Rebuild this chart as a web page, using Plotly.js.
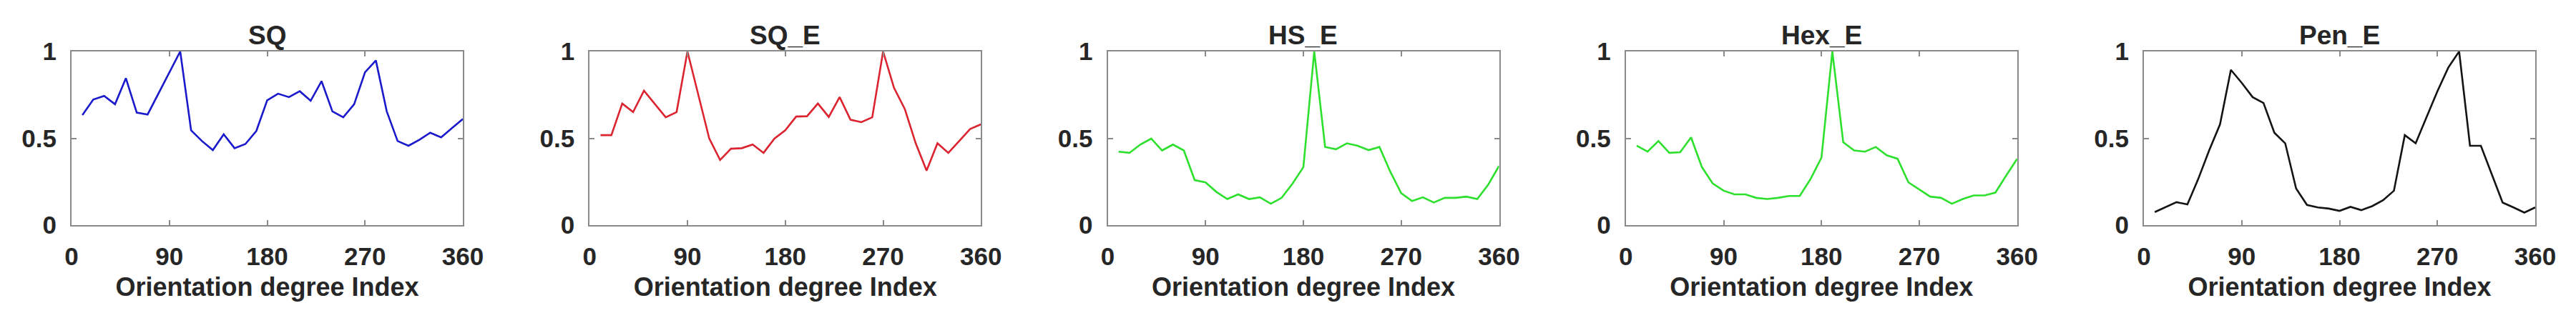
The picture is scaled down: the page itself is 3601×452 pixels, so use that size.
<!DOCTYPE html>
<html>
<head>
<meta charset="utf-8">
<script src="https://cdn.plot.ly/plotly-3.0.1.min.js"></script>
<style>
  html, body { margin: 0; padding: 0; background: #ffffff; }
  #chart { width: 3601px; height: 452px; }
</style>
</head>
<body>
<div id="chart"></div>
<script>
// Orientation angles (degrees)
const angles = [10, 20, 30, 40, 50, 60, 70, 80, 90, 100, 110, 120,
                130, 140, 150, 160, 170, 180, 190, 200, 210, 220, 230, 240,
                250, 260, 270, 280, 290, 300, 310, 320, 330, 340, 350, 360];

const panelTitles = ["SQ", "SQ_E", "HS_E", "Hex_E", "Pen_E"];

const sq = [0.634, 0.723, 0.744, 0.696, 0.846, 0.648, 0.637, 0.758, 0.879, 1.0, 0.546, 0.484,
            0.432, 0.523, 0.443, 0.467, 0.542, 0.719, 0.757, 0.737, 0.771, 0.716, 0.829, 0.655,
            0.621, 0.696, 0.880, 0.948, 0.655, 0.484, 0.457, 0.491, 0.532, 0.505, 0.559, 0.611];

const sqE = [0.518, 0.518, 0.700, 0.651, 0.774, 0.696, 0.621, 0.651, 1.0, 0.75, 0.50, 0.375,
             0.440, 0.443, 0.464, 0.416, 0.498, 0.546, 0.625, 0.627, 0.700, 0.623, 0.737, 0.607,
             0.593, 0.621, 1.0, 0.791, 0.668, 0.471, 0.314, 0.471, 0.416, 0.484, 0.553, 0.580];

const hsE = [0.423, 0.416, 0.464, 0.498, 0.430, 0.464, 0.430, 0.259, 0.246, 0.191, 0.150, 0.177,
             0.150, 0.160, 0.123, 0.157, 0.239, 0.334, 1.0, 0.450, 0.437, 0.471, 0.457, 0.432,
             0.450, 0.307, 0.184, 0.139, 0.160, 0.130, 0.157, 0.157, 0.164, 0.150, 0.232, 0.341];

const hexE = [0.457, 0.423, 0.484, 0.416, 0.420, 0.505, 0.334, 0.239, 0.198, 0.177, 0.177, 0.157,
              0.150, 0.157, 0.168, 0.168, 0.266, 0.389, 1.0, 0.477, 0.430, 0.423, 0.450, 0.402,
              0.382, 0.246, 0.205, 0.164, 0.157, 0.123, 0.150, 0.171, 0.171, 0.187, 0.286, 0.382];

const penE = [0.075, 0.102, 0.132, 0.119, 0.266, 0.430, 0.580, 0.894, 0.819, 0.737, 0.703, 0.532,
              0.471, 0.211, 0.116, 0.102, 0.095, 0.082, 0.105, 0.086, 0.109, 0.143, 0.198, 0.518,
              0.471, 0.621, 0.771, 0.907, 1.0, 0.457, 0.457, 0.293, 0.130, 0.102, 0.072, 0.102];

const xTickVals = [0, 90, 180, 270, 360];
const xTickText = ["0", "90", "180", "270", "360"];
const yTickVals = [0, 0.5, 1];
const yTickText = ["0", "0.5", "1"];
const xAxisTitle = "Orientation degree Index";

const seriesList = [sq, sqE, hsE, hexE, penE];
const lineColors = ["#1a1acc", "#dc2430", "#2ee02e", "#2ee02e", "#141414"];

const W = 3601, H = 452;
const FONT = "Liberation Sans, Arial, sans-serif";
const TXT = "#262626";

const traces = [];
const layout = {
  width: W, height: H,
  margin: {l: 0, r: 0, t: 0, b: 0},
  paper_bgcolor: "#ffffff",
  plot_bgcolor: "#ffffff",
  showlegend: false,
  font: {family: FONT, color: TXT},
  annotations: []
};

const plotTop = 72, plotBottom = 315, plotW = 547, step = 724.25, firstLeft = 100;
const yDom = [(H - plotBottom) / H, (H - plotTop) / H];

seriesList.forEach((vals, i) => {
  const n = i + 1;
  const xa = n === 1 ? "x" : "x" + n;
  const ya = n === 1 ? "y" : "y" + n;
  traces.push({
    type: "scatter", mode: "lines",
    x: angles, y: vals,
    xaxis: xa, yaxis: ya,
    line: {color: lineColors[i], width: 2.6},
    hoverinfo: "skip"
  });
  const left = firstLeft + step * i;
  const xDom = [left / W, (left + plotW) / W];
  const xKey = n === 1 ? "xaxis" : "xaxis" + n;
  const yKey = n === 1 ? "yaxis" : "yaxis" + n;
  layout[xKey] = {
    domain: xDom, anchor: ya,
    range: [0, 360],
    tickmode: "array", tickvals: xTickVals, ticktext: xTickText,
    ticks: "inside", ticklen: 7, tickwidth: 2, tickcolor: "#8a8a8a",
    showline: true, linecolor: "#8a8a8a", linewidth: 2, mirror: "ticks",
    showgrid: false, zeroline: false,
    tickfont: {family: FONT, size: 35, color: TXT, weight: "bold"},
    ticklabelstandoff: 12,
    title: {text: xAxisTitle, font: {family: FONT, size: 36, color: TXT, weight: "bold"}, standoff: 12}
  };
  layout[yKey] = {
    domain: yDom, anchor: xa,
    range: [0, 1],
    tickmode: "array", tickvals: yTickVals, ticktext: yTickText,
    ticks: "inside", ticklen: 7, tickwidth: 2, tickcolor: "#8a8a8a",
    showline: true, linecolor: "#8a8a8a", linewidth: 2, mirror: "ticks",
    showgrid: false, zeroline: false,
    tickfont: {family: FONT, size: 35, color: TXT, weight: "bold"},
    ticklabelstandoff: 12
  };
  layout.annotations.push({
    text: panelTitles[i],
    xref: "paper", yref: "paper",
    x: (xDom[0] + xDom[1]) / 2, y: (H - 50) / H,
    xanchor: "center", yanchor: "middle",
    showarrow: false,
    font: {family: FONT, size: 37, color: TXT, weight: "bold"}
  });
});

Plotly.newPlot("chart", traces, layout, {staticPlot: true, displayModeBar: false});
</script>
</body>
</html>
